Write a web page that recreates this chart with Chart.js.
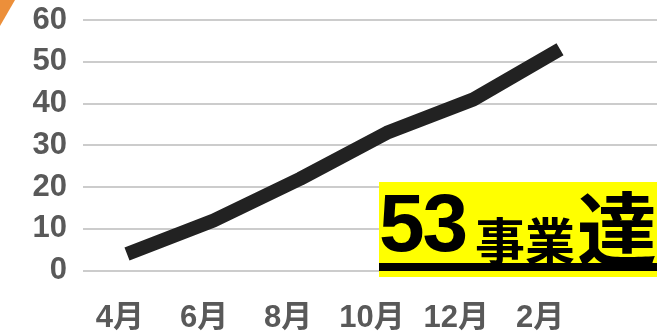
<!DOCTYPE html>
<html>
<head>
<meta charset="utf-8">
<script src="https://cdn.jsdelivr.net/npm/chart.js@4"></script>
<style>
  html, body { margin: 0; padding: 0; background: #fff; }
  #wrap { position: relative; width: 657px; height: 335px; overflow: hidden; }
  #c { position: absolute; left: 0; top: 0; }
  #corner { position: absolute; left: 0; top: 0; width: 20px; height: 30px; background: #EC8F3A;
            clip-path: polygon(0 0, 15px 0, 0 26px); }
  #badge { position: absolute; left: 379px; top: 182px; width: 278px; height: 95px; background: #ffff00; overflow: hidden; }
  #badge span { position: absolute; color: #000; font-weight: bold; line-height: 1; white-space: nowrap; }
  #num { left: 0px; top: 0px; font-size: 82px; letter-spacing: -2px; font-family: "Liberation Sans", Arial, sans-serif; }
  #jigyo { left: 96px; top: 31px; font-size: 50px; font-family: "Noto Sans CJK JP", sans-serif; }
  #tatsu { left: 198px; top: 2px; font-size: 80px; font-family: "Noto Sans CJK JP", sans-serif; }
  #bar { position: absolute; left: 0; top: 81px; width: 278px; height: 8px; background: #000; }
</style>
</head>
<body>
<div id="wrap">
  <canvas id="c" width="657" height="335"></canvas>
  <div id="corner"></div>
  <div id="badge">
    <span id="num">53</span><span id="jigyo">事業</span><span id="tatsu">達</span>
    <div id="bar"></div>
  </div>
</div>
<script>
const categories = ["4月", "6月", "8月", "10月", "12月", "2月"];
const values = [4, 12, 22, 33, 41, 53];
const yTicks = [0, 10, 20, 30, 40, 50, 60];

const points = values.map((v, i) => ({ x: i, y: v }));

new Chart(document.getElementById('c'), {
  type: 'line',
  data: {
    datasets: [{
      data: points,
      xAxisID: 'x',
      yAxisID: 'y',
      borderColor: '#222222',
      borderWidth: 14,
      borderCapStyle: 'butt',
      borderJoinStyle: 'bevel',
      pointRadius: 0,
      tension: 0,
      fill: false
    }]
  },
  options: {
    responsive: false,
    devicePixelRatio: 1,
    animation: false,
    layout: { padding: { top: 20, right: 0, left: 0, bottom: 0 } },
    plugins: { legend: { display: false }, tooltip: { enabled: false } },
    scales: {
      x: {
        type: 'linear',
        display: false,
        min: -0.508,
        max: 6.12
      },
      xl: {
        type: 'linear',
        position: 'bottom',
        min: -0.44,
        max: 6.39,
        grid: { display: false, drawTicks: false },
        border: { display: false },
        afterBuildTicks: s => { s.ticks = categories.map((c, i) => ({ value: i })); },
        afterFit: s => { s.height = 64.3; s.paddingLeft = 0; s.paddingRight = 0; },
        ticks: {
          autoSkip: false,
          maxRotation: 0,
          padding: 29,
          color: '#595959',
          font: { size: 31, weight: 'bold', family: '"Liberation Sans", "Noto Sans CJK JP", sans-serif' },
          callback: v => categories[v] !== undefined ? categories[v] : ''
        }
      },
      y: {
        min: 0,
        max: 60,
        afterBuildTicks: s => { s.ticks = yTicks.map(v => ({ value: v })); },
        afterFit: s => { s.width = 83; s.paddingTop = 0; s.paddingBottom = 0; },
        grid: { color: '#cccccc', lineWidth: 2, drawTicks: false },
        border: { display: false },
        ticks: {
          autoSkip: false,
          padding: 16,
          color: '#595959',
          font: { size: 31, weight: 'bold', family: '"Liberation Sans", Arial, sans-serif' }
        }
      }
    }
  }
});
</script>
</body>
</html>
